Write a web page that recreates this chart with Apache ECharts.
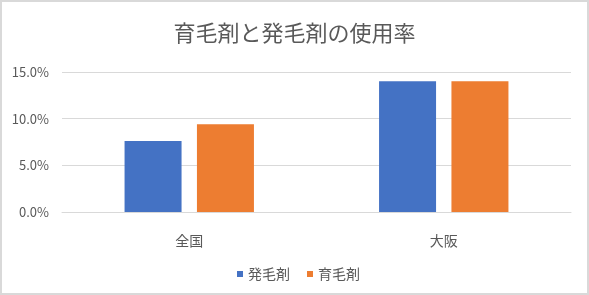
<!DOCTYPE html>
<html>
<head>
<meta charset="utf-8">
<script src="https://cdn.jsdelivr.net/npm/echarts@6/dist/echarts.min.js"></script>
<style>
html,body{margin:0;padding:0;background:#fff;}
#wrap{position:absolute;left:0;top:0;width:585px;height:291px;border:2px solid #d9d9d9;background:#fff;}
#chart{position:absolute;left:-2px;top:-2px;width:589px;height:295px;}
</style>
</head>
<body>
<div id="wrap"><div id="chart"></div></div>
<script>
const titleText = '育毛剤と発毛剤の使用率';
const categories = ['全国', '大阪'];
const seriesNames = ['発毛剤', '育毛剤'];
const hatsumozai = [7.6, 14.0];
const ikumozai = [9.4, 14.0];
const yTicks = [0, 5, 10, 15];

const font = '"Noto Sans CJK JP", "Noto Sans", sans-serif';
const chart = echarts.init(document.getElementById('chart'), null, {renderer: 'canvas'});
chart.setOption({
  animation: false,
  backgroundColor: 'transparent',
  title: {
    text: titleText,
    left: 'center',
    top: 17,
    textStyle: {fontFamily: font, fontSize: 22, fontWeight: 'normal', color: '#595959'}
  },
  legend: {
    data: seriesNames,
    left: 232,
    top: 262,
    itemWidth: 6,
    itemHeight: 6,
    itemGap: 17,
    icon: 'rect',
    textStyle: {fontFamily: font, fontSize: 14, color: '#595959'}
  },
  grid: {left: 62, right: 18, top: 72, bottom: 83, containLabel: false},
  xAxis: {
    type: 'category',
    data: categories,
    axisLine: {lineStyle: {color: '#d9d9d9', width: 1}},
    axisTick: {show: false},
    axisLabel: {fontFamily: font, fontSize: 14, color: '#595959', margin: 22}
  },
  yAxis: {
    type: 'value',
    min: yTicks[0],
    max: yTicks[yTicks.length - 1],
    interval: yTicks[1] - yTicks[0],
    axisLine: {show: false},
    axisTick: {show: false},
    splitLine: {lineStyle: {color: '#d9d9d9', width: 1}},
    axisLabel: {
      fontFamily: font, fontSize: 13, color: '#595959', margin: 13,
      formatter: v => v.toFixed(1) + '%'
    }
  },
  series: [
    {name: seriesNames[0], type: 'bar', data: hatsumozai, barWidth: 57, barGap: '27%',
     itemStyle: {color: '#4472C4'}},
    {name: seriesNames[1], type: 'bar', data: ikumozai, barWidth: 57, barGap: '27%',
     itemStyle: {color: '#ED7D31'}}
  ]
});
</script>
</body>
</html>
